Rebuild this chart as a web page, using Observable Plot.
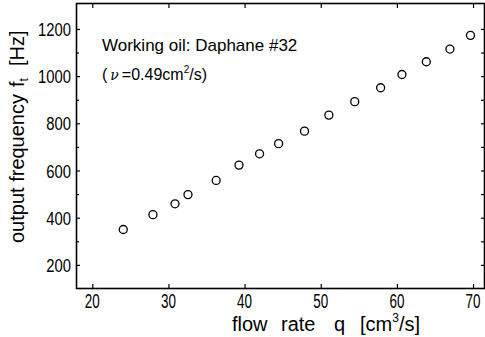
<!DOCTYPE html>
<html><head><meta charset="utf-8">
<script src="https://cdn.jsdelivr.net/npm/d3@7"></script>
<script src="https://cdn.jsdelivr.net/npm/@observablehq/plot@0.6"></script>
<style>
body{margin:0;background:#fff;}
#chart{position:relative;width:485px;height:337px;overflow:hidden;}
svg{display:block;}
</style></head><body><div id="chart"></div>
<script>
const flowRate = [24.0, 27.9, 30.8, 32.5, 36.2, 39.2, 41.9, 44.4, 47.8, 51.0, 54.4, 57.8, 60.6, 63.8, 66.9, 69.6];
const frequency = [352, 415, 461, 500, 560, 625, 673, 716, 769, 837, 894, 953, 1009, 1063, 1117, 1175];
const xTicks = [20, 30, 40, 50, 60, 70];
const yTicks = [200, 400, 600, 800, 1000, 1200];
const yMinorTicks = [300, 500, 700, 900, 1100];
const yRightTicks = [200, 300, 400, 500, 600, 700, 800, 900, 1000, 1100, 1200];

const data = flowRate.map((q, i) => ({q, f: frequency[i]}));
const sans = '"Liberation Sans", Arial, sans-serif';

const chart = Plot.plot({
  width: 485, height: 337,
  marginLeft: 76, marginRight: 1, marginTop: 3, marginBottom: 49,
  x: {domain: [17.86, 71.44], axis: null},
  y: {domain: [102, 1310], axis: null},
  style: {fontFamily: sans, background: "white", color: "black"},
  marks: [
    Plot.frame({stroke: "black", strokeWidth: 1.6}),
    Plot.axisX(xTicks, {anchor: "bottom", tickSize: -4, tickFormat: () => "", label: null, strokeWidth: 1.2}),
    Plot.axisX(xTicks, {anchor: "top", tickSize: -4, tickFormat: () => "", label: null, strokeWidth: 1.2}),
    Plot.axisY(yTicks, {anchor: "left", tickSize: -4, tickFormat: () => "", label: null, strokeWidth: 1.2}),
    Plot.axisY(yMinorTicks, {anchor: "left", tickSize: -3, tickFormat: () => "", label: null, strokeWidth: 1.2}),
    Plot.axisY(yRightTicks, {anchor: "right", tickSize: -4, tickFormat: () => "", label: null, strokeWidth: 1.2}),
    Plot.dot(data, {x: "q", y: "f", r: 4, stroke: "black", strokeWidth: 1.3, fill: "white"})
  ]
});
document.getElementById("chart").appendChild(chart);

const svg = d3.select(chart);
const sx = chart.scale("x"), sy = chart.scale("y");
// Tall, condensed tick labels placed with Plot's own scales; font size set on each text element
xTicks.forEach(v => {
  svg.append("text")
    .attr("font-family", sans).attr("font-size", 21).style("font-size", "21px")
    .attr("fill", "black").attr("text-anchor", "middle")
    .attr("transform", `translate(${sx.apply(v)},308) scale(0.64,1)`)
    .text(String(v));
});
yTicks.forEach(v => {
  svg.append("text")
    .attr("font-family", sans).attr("font-size", 19).style("font-size", "19px")
    .attr("fill", "black").attr("text-anchor", "end")
    .attr("transform", `translate(71,${sy.apply(v) + 7}) scale(0.78,1)`)
    .text(String(v));
});

// Annotation
const ann = svg.append("g").attr("font-family", sans).attr("fill", "black").attr("text-anchor", "start");
ann.append("text").attr("x", 102).attr("y", 51).attr("font-size", 17).text("Working oil: Daphane #32");
const t2 = ann.append("text").attr("x", 102).attr("y", 80).attr("font-size", 16);
t2.append("tspan").text("(");
t2.append("tspan").attr("dx", 3).attr("font-style", "italic").attr("font-family", '"DejaVu Serif", serif').attr("font-size", 14).text("ν");
t2.append("tspan").attr("dx", 3).text("=0.49cm");
t2.append("tspan").attr("font-size", 10).attr("dy", -7).text("2");
t2.append("tspan").attr("dy", 7).text("/s)");

// Y label
const yl = svg.append("text").attr("font-family", sans).attr("font-size", 20).attr("fill", "black")
  .attr("transform", "translate(24,243) rotate(-90)").attr("text-anchor", "start");
yl.append("tspan").text("output frequency");
yl.append("tspan").attr("dx", 7).text("f");
yl.append("tspan").attr("font-size", 12).attr("dy", 4).text("t");
yl.append("tspan").attr("dx", 12).attr("dy", -4).text("[Hz]");

// X label
const xl = svg.append("text").attr("font-family", sans).attr("font-size", 20).attr("fill", "black").attr("y", 331).attr("text-anchor", "start");
xl.append("tspan").attr("x", 232).text("flow");
xl.append("tspan").attr("x", 281).text("rate");
xl.append("tspan").attr("x", 334).text("q");
xl.append("tspan").attr("x", 360).text("[cm");
xl.append("tspan").attr("font-size", 12).attr("dy", -9).text("3");
xl.append("tspan").attr("dy", 9).text("/s]");
</script></body></html>
